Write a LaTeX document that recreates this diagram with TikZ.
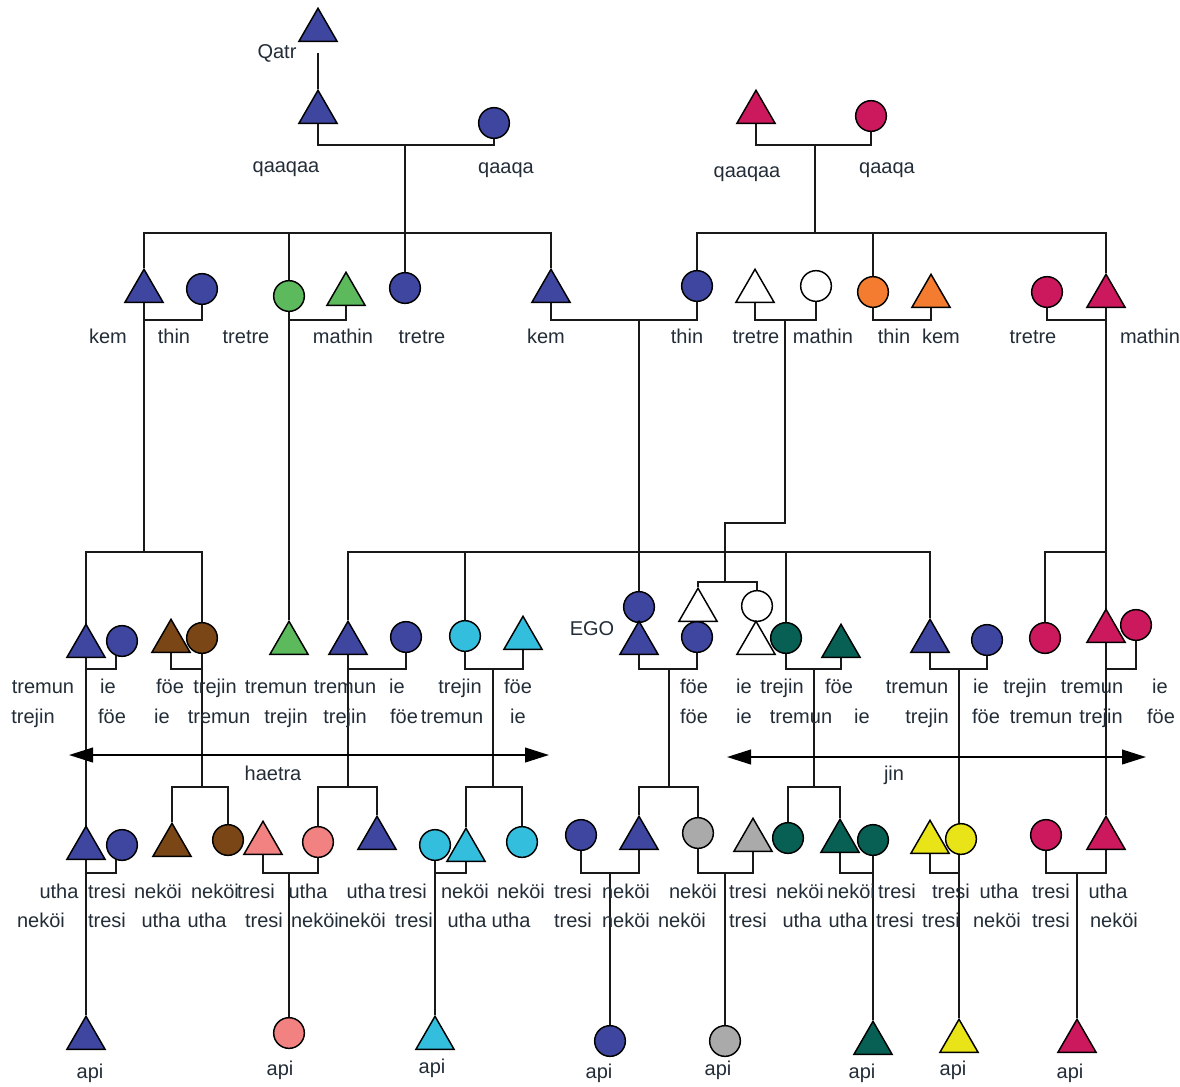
\documentclass[tikz,border=0pt]{standalone}
\usepackage{fontspec}
\setmainfont{Liberation Sans}
\usetikzlibrary{shapes.geometric,arrows.meta}
\definecolor{blu}{RGB}{62,70,160}
\definecolor{mag}{RGB}{204,24,92}
\definecolor{grn}{RGB}{92,186,92}
\definecolor{org}{RGB}{244,124,48}
\definecolor{brn}{RGB}{122,70,22}
\definecolor{cyn}{RGB}{52,190,222}
\definecolor{pnk}{RGB}{242,130,130}
\definecolor{tea}{RGB}{8,96,84}
\definecolor{gry}{RGB}{170,170,170}
\definecolor{yel}{RGB}{232,228,24}
\definecolor{txt}{RGB}{35,45,55}
\pgfdeclarelayer{bg}
\pgfsetlayers{bg,main}
\newcommand\KTri[4]{\node[tri,fill=#1] (#2) at (#3,#4) {};}
\newcommand\KCir[4]{\node[cir,fill=#1] (#2) at (#3,#4) {};}
\begin{document}
\begin{tikzpicture}[x=0.75pt,y=-0.75pt,
  tri/.style={regular polygon, regular polygon sides=3, minimum size=33pt, inner sep=0pt, draw=black, line width=1.1pt, anchor=south},
  cir/.style={circle, minimum size=23pt, inner sep=0pt, draw=black, line width=1.1pt},
  lbl/.style={font=\fontsize{15}{18}\selectfont, text=txt, inner sep=0pt, text height=10.5pt, text depth=3pt},
  ln/.style={line width=1pt, draw=black!90},
  arr/.style={line width=1.5pt, draw=black, {Triangle[length=18pt,width=11pt]}-{Triangle[length=18pt,width=11pt]}}]
\useasboundingbox (0,0) rectangle (1180,1086);
\begin{pgfonlayer}{bg}
\fill[white] (0,0) rectangle (1180,1086);
\end{pgfonlayer}
% level coordinates
\coordinate (L233) at (0,233);
\coordinate (L320) at (0,320);
\coordinate (L552) at (0,552);
\coordinate (L669) at (0,669);
\coordinate (L787) at (0,787);
\coordinate (L873) at (0,873);
% ---------- generation 0
\KTri{blu}{qatr}{318}{42}
\KTri{blu}{qmL}{318}{124}
\KCir{blu}{qfL}{494}{123}
\KTri{mag}{qmR}{756}{124}
\KCir{mag}{qfR}{871}{116}
% ---------- generation 1
\KTri{blu}{kemL}{144}{303}
\KCir{blu}{thinL}{202}{289}
\KCir{grn}{treG}{289}{296}
\KTri{grn}{matG}{346}{306}
\KCir{blu}{treB}{405}{288}
\KTri{blu}{kemM}{551}{303}
\KCir{blu}{thinR}{697}{286}
\KTri{white}{treW}{755}{303}
\KCir{white}{matW}{816}{286}
\KCir{org}{thinO}{873}{292}
\KTri{org}{kemO}{931}{308}
\KCir{mag}{treM}{1047}{292}
\KTri{mag}{matM}{1106}{308}
% ---------- generation 2 (EGO row)
\KTri{blu}{t3a}{86}{658}
\KCir{blu}{c3a}{122}{641}
\KTri{brn}{t3b}{171}{653}
\KCir{brn}{c3b}{202}{638}
\KTri{grn}{t3c}{289}{655}
\KTri{blu}{t3d}{348}{655}
\KCir{blu}{c3d}{406}{637}
\KCir{cyn}{c3e}{465}{636}
\KTri{cyn}{t3e}{523}{650}
\KCir{blu}{egoC}{639}{607}
\KTri{blu}{egoT}{639}{655}
\KCir{blu}{c3f}{697}{637}
\KTri{white}{t3w}{698}{622}
\KCir{white}{c3w}{757}{606}
\KTri{white}{t3w2}{756}{655}
\KCir{tea}{c3g}{786}{638}
\KTri{tea}{t3g}{841}{658}
\KTri{blu}{t3h}{930}{653}
\KCir{blu}{c3h}{987}{640}
\KCir{mag}{c3i}{1045}{638}
\KTri{mag}{t3i}{1106}{643}
\KCir{mag}{c3j}{1136}{625}
% ---------- generation 3
\KTri{blu}{t4a}{86}{860}
\KCir{blu}{c4a}{122}{845}
\KTri{brn}{t4b}{172}{857}
\KCir{brn}{c4b}{228}{840}
\KTri{pnk}{t4c}{263}{855}
\KCir{pnk}{c4c}{318}{842}
\KTri{blu}{t4d}{377}{850}
\KCir{cyn}{c4e}{435}{845}
\KTri{cyn}{t4e}{466}{862}
\KCir{cyn}{c4f}{522}{842}
\KCir{blu}{c4g}{581}{835}
\KTri{blu}{t4g}{639}{850}
\KCir{gry}{c4h}{698}{833}
\KTri{gry}{t4h}{753}{852}
\KCir{tea}{c4i}{788}{838}
\KTri{tea}{t4i}{840}{853}
\KCir{tea}{c4j}{873}{840}
\KTri{yel}{t4k}{930}{854}
\KCir{yel}{c4k}{961}{839}
\KCir{mag}{c4l}{1046}{835}
\KTri{mag}{t4l}{1106}{850}
% ---------- generation 4 (api)
\KTri{blu}{a1}{86}{1050}
\KCir{pnk}{a2}{289}{1033}
\KTri{cyn}{a3}{435}{1050}
\KCir{blu}{a4}{610}{1041}
\KCir{gry}{a5}{725}{1041}
\KTri{tea}{a6}{873}{1055}
\KTri{yel}{a7}{959}{1053}
\KTri{mag}{a8}{1077}{1053}
% ---------- labels
\foreach \x/\y/\t [count=\i] in {277/53/Qatr, 286/167/qaaqaa, 506/168/qaaqa, 747/172/qaaqaa, 887/168/qaaqa, 592/630/EGO, 273/775/haetra, 894/775/jin}
  \node[lbl] (la\i) at (\x,\y) {\t};
\foreach \x/\t [count=\i] in {108/kem, 174/thin, 246/tretre, 343/mathin, 422/tretre, 546/kem, 687/thin, 756/tretre, 823/mathin, 894/thin, 941/kem, 1033/tretre, 1150/mathin}
  \node[lbl] (lb\i) at (\x,338) {\t};
\foreach \x/\t [count=\i] in {43/tremun, 108/ie, 170/föe, 215/trejin, 276/tremun, 345/tremun, 397/ie, 460/trejin, 518/föe, 694/föe, 744/ie, 782/trejin, 839/föe, 917/tremun, 981/ie, 1025/trejin, 1092/tremun, 1160/ie}
  \node[lbl] (lc\i) at (\x,688) {\t};
\foreach \x/\t [count=\i] in {33/trejin, 112/föe, 162/ie, 219/tremun, 286/trejin, 345/trejin, 404/föe, 452/tremun, 518/ie, 694/föe, 744/ie, 801/tremun, 862/ie, 927/trejin, 986/föe, 1041/tremun, 1101/trejin, 1161/föe}
  \node[lbl] (ld\i) at (\x,718) {\t};
\foreach \x/\t [count=\i] in {59/utha, 107/tresi, 158/neköi, 215/neköi, 256/tresi, 308/utha, 366/utha, 408/tresi, 465/neköi, 521/neköi, 573/tresi, 626/neköi, 693/neköi, 748/tresi, 800/neköi, 851/neköi, 897/tresi, 951/tresi, 999/utha, 1051/tresi, 1108/utha}
  \node[lbl] (le\i) at (\x,893) {\t};
\foreach \x/\t [count=\i] in {41/neköi, 107/tresi, 161/utha, 207/utha, 264/tresi, 315/neköi, 362/neköi, 414/tresi, 467/utha, 511/utha, 573/tresi, 626/neköi, 682/neköi, 748/tresi, 802/utha, 848/utha, 895/tresi, 941/tresi, 997/neköi, 1051/tresi, 1114/neköi}
  \node[lbl] (lf\i) at (\x,922) {\t};
\foreach \x/\y [count=\i] in {90/1073, 280/1070, 432/1068, 599/1073, 718/1070, 862/1073, 953/1070, 1070/1073}
  \node[lbl] (lg\i) at (\x,\y) {api};
% ---------- connectors
\begin{pgfonlayer}{bg}
% generation 0
\coordinate (qs) at (318,53);
\coordinate (j0L) at (405,145);
\coordinate (j0R) at (815,145);
\draw[ln] (qs) -- (qmL);
\draw[ln] (qmL) |- (j0L) -| (qfL);
\draw[ln] (qmR) |- (j0R) -| (qfR);
% sibling bars generation 1
\coordinate (j1L) at (405,233);
\coordinate (j1R) at (815,233);
\draw[ln] (j0L) -- (treB);
\draw[ln] (kemL) |- (j1L) -| (kemM);
\draw[ln] (treG |- L233) -- (t3c);
\draw[ln] (j0R) -- (j1R);
\draw[ln] (thinR) |- (j1R) -| (matM);
\draw[ln] (thinO |- L233) -- (thinO);
% marriages generation 1
\coordinate (mA) at (173,320);
\coordinate (mB) at (318,320);
\coordinate (mC) at (639,320);
\coordinate (mD) at (785,320);
\coordinate (mE) at (900,320);
\coordinate (mF) at (1076,320);
\draw[ln] (kemL) |- (mA) -| (thinL);
\draw[ln] (treG) |- (mB) -| (matG);
\draw[ln] (kemM) |- (mC) -| (thinR);
\draw[ln] (treW) |- (mD) -| (matW);
\draw[ln] (thinO) |- (mE) -| (kemO);
\draw[ln] (treM) |- (mF) -| (matM);
\draw[ln] (mC) -- (egoC);
\coordinate (mD2) at (785,523);
\coordinate (mD3) at (725,523);
\coordinate (mD4) at (725,582);
\draw[ln] (mD) -- (mD2) -- (mD3) -- (mD4);
\draw[ln] (t3w) |- (mD4) -| (c3w);
\draw[ln] (matM) -- (t4l);
% sibling bars generation 2
\coordinate (j2A) at (144,552);
\coordinate (j2M) at (639,552);
\coordinate (j2R) at (1106,552);
\draw[ln] (kemL) -- (j2A);
\draw[ln] (t3a) |- (j2A) -| (c3b);
\draw[ln] (t3a |- L552) -- (a1);
\draw[ln] (t3d) |- (j2M) -| (t3h);
\draw[ln] (c3e |- L552) -- (c3e);
\draw[ln] (c3g |- L552) -- (c3g);
\draw[ln] (c3i) |- (j2R);
% marriages generation 2
\coordinate (m3a) at (116,669);
\coordinate (m3e) at (493,669);
\coordinate (m3f) at (669,669);
\coordinate (m3g) at (814,669);
\coordinate (m3h) at (959,669);
\draw[ln] (t3a) |- (m3a) -- (m3a |- c3a);
\draw[ln] (t3b) |- (c3b |- L669);
\draw[ln] (c3b) -- (c3b |- L787);
\draw[ln] (t4b) |- (c3b |- L787) -| (c4b);
\draw[ln] (t3d) |- (L669 -| c3d) -- (c3d);
\draw[ln] (t3d) -- (t3d |- L787);
\draw[ln] (c4c) |- (t3d |- L787) -| (t4d);
\draw[ln] (c3e) |- (m3e) -| (t3e);
\draw[ln] (m3e) -- (m3e |- L787);
\draw[ln] (t4e) |- (m3e |- L787) -| (c4f);
\draw[ln] (egoT) |- (m3f) -| (c3f);
\draw[ln] (m3f) -- (m3f |- L787);
\draw[ln] (t4g) |- (m3f |- L787) -| (c4h);
\draw[ln] (c3g) |- (m3g) -| (t3g);
\draw[ln] (m3g) -- (m3g |- L787);
\draw[ln] (c4i) |- (m3g |- L787) -| (t4i);
\draw[ln] (t3h) |- (m3h) -| (c3h);
\draw[ln] (m3h) -- (a7);
\draw[ln] (t3i) |- (L669 -| c3j) -- (c3j);
% marriages generation 3
\coordinate (m4a) at (116,873);
\coordinate (m4c) at (289,873);
\coordinate (m4g) at (610,873);
\coordinate (m4h) at (725,873);
\coordinate (m4l) at (1077,873);
\draw[ln] (t4a) |- (m4a) -- (m4a |- c4a);
\draw[ln] (t4c) |- (m4c) -| (c4c);
\draw[ln] (m4c) -- (a2);
\draw[ln] (c4e) |- (L873 -| t4e) -- (t4e);
\draw[ln] (c4e) -- (a3);
\draw[ln] (c4g) |- (m4g) -| (t4g);
\draw[ln] (m4g) -- (a4);
\draw[ln] (c4h) |- (m4h) -| (t4h);
\draw[ln] (m4h) -- (a5);
\draw[ln] (t4i) |- (L873 -| c4j) -- (c4j);
\draw[ln] (c4j) -- (a6);
\draw[ln] (t4k) |- (L873 -| m3h);
\draw[ln] (c4l) |- (m4l) -| (t4l);
\draw[ln] (m4l) -- (a8);
\end{pgfonlayer}
% arrows
\coordinate (hL) at (69,755);
\coordinate (hR) at (549,755);
\coordinate (jL) at (727,757);
\coordinate (jR) at (1146,757);
\draw[arr] (hL) -- (hR);
\draw[arr] (jL) -- (jR);
\end{tikzpicture}
\end{document}
